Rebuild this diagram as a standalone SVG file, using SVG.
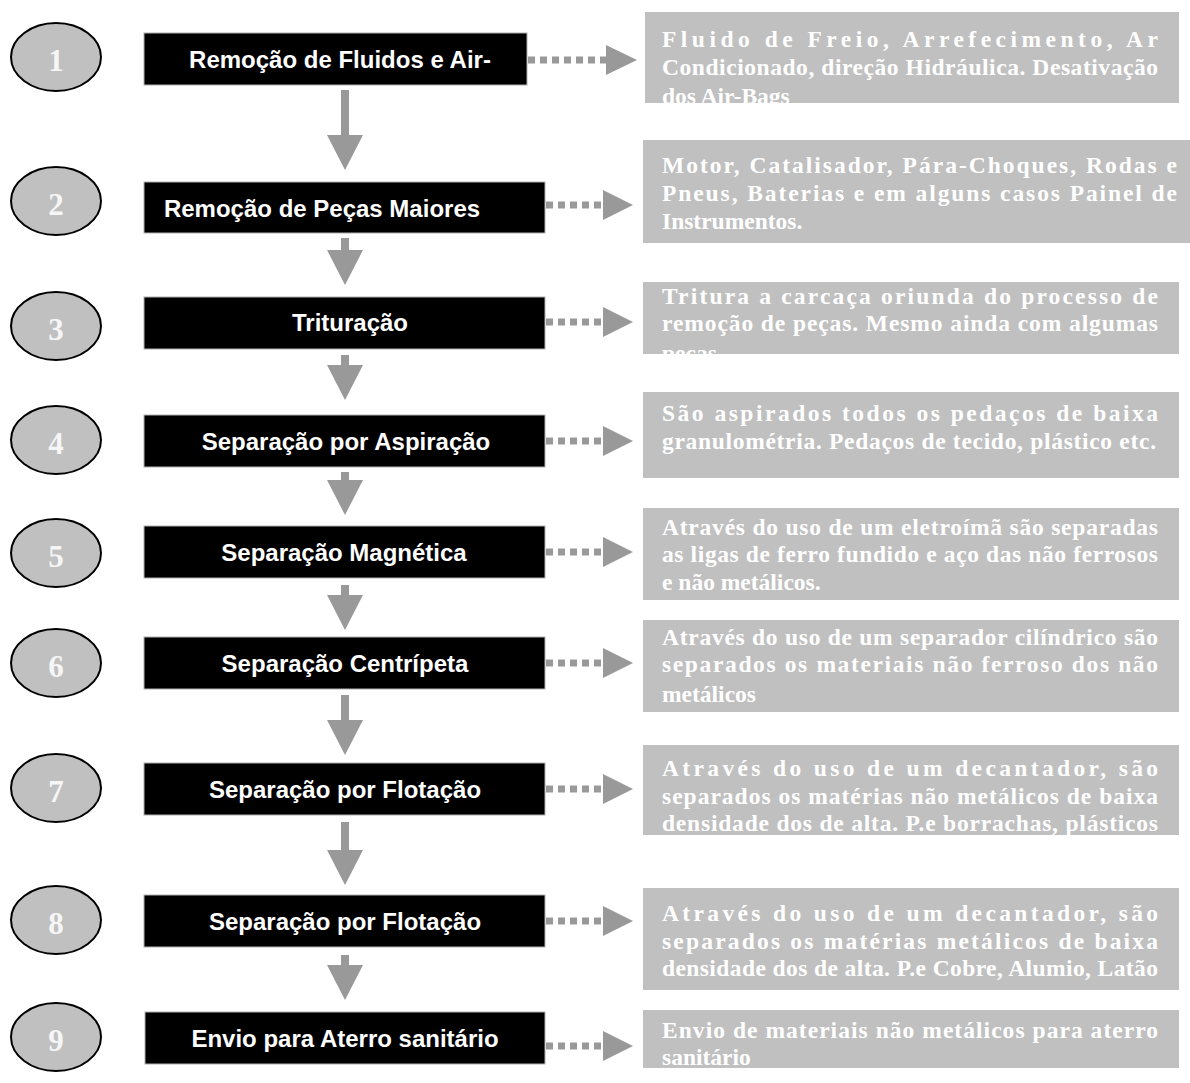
<svg xmlns="http://www.w3.org/2000/svg" width="1190" height="1083" viewBox="0 0 1190 1083">
  <style>
    .num { fill: #c0c0c0; stroke: #000; stroke-width: 2; }
    .numtxt { font-family: "Liberation Serif", "Times New Roman", serif; font-weight: bold; font-size: 31px; fill: #f6f6f6; text-anchor: middle; }
    .step { fill: #000; stroke: #b0b0b0; stroke-width: 1; }
    .steptxt { font-family: "Liberation Sans", Arial, sans-serif; font-weight: bold; font-size: 24px; fill: #fff; text-anchor: middle; }
    .note { fill: #c0c0c0; }
    .notetxt { font-family: "Liberation Serif", "Times New Roman", serif; font-weight: bold; font-size: 23.5px; fill: #fff; }
    .down { fill: #999; }
    .dots { stroke: #999; stroke-width: 7; stroke-dasharray: 7 5; fill: none; }
    .head { fill: #999; }
  </style>
  <defs>
    <clipPath id="c1"><rect x="645" y="12" width="534" height="91"/></clipPath>
    <clipPath id="c3"><rect x="643" y="282" width="536" height="72"/></clipPath>
    <clipPath id="c6"><rect x="643" y="620" width="536" height="92"/></clipPath>
  </defs>

  <rect width="1190" height="1083" fill="#fff"/>

  <!-- connectors: vertical flow arrows and dotted side arrows -->
  <g id="connectors">
    <polygon class="down" points="341,90 349,90 349,135 363,135 345,170 327,135 341,135"/>
    <polygon class="down" points="341,238 349,238 349,250 363,250 345,285 327,250 341,250"/>
    <polygon class="down" points="341,355 349,355 349,365 363,365 345,400 327,365 341,365"/>
    <polygon class="down" points="341,472 349,472 349,480 363,480 345,515 327,480 341,480"/>
    <polygon class="down" points="341,585 349,585 349,595 363,595 345,630 327,595 341,595"/>
    <polygon class="down" points="341,695 349,695 349,720 363,720 345,755 327,720 341,720"/>
    <polygon class="down" points="341,822 349,822 349,850 363,850 345,885 327,850 341,850"/>
    <polygon class="down" points="341,955 349,955 349,965 363,965 345,1000 327,965 341,965"/>

    <line class="dots" x1="528" y1="60" x2="606" y2="60"/>
    <polygon class="head" points="606,45 637,60 606,75"/>
    <line class="dots" x1="546" y1="205" x2="603" y2="205"/>
    <polygon class="head" points="603,190 633,205 603,220"/>
    <line class="dots" x1="546" y1="322" x2="603" y2="322"/>
    <polygon class="head" points="603,307 633,322 603,337"/>
    <line class="dots" x1="546" y1="441" x2="603" y2="441"/>
    <polygon class="head" points="603,426 633,441 603,456"/>
    <line class="dots" x1="546" y1="552" x2="603" y2="552"/>
    <polygon class="head" points="603,537 633,552 603,567"/>
    <line class="dots" x1="546" y1="663" x2="603" y2="663"/>
    <polygon class="head" points="603,648 633,663 603,678"/>
    <line class="dots" x1="546" y1="789" x2="603" y2="789"/>
    <polygon class="head" points="603,774 633,789 603,804"/>
    <line class="dots" x1="546" y1="921" x2="603" y2="921"/>
    <polygon class="head" points="603,906 633,921 603,936"/>
    <line class="dots" x1="546" y1="1046" x2="603" y2="1046"/>
    <polygon class="head" points="603,1031 633,1046 603,1061"/>
  </g>

  <!-- step 1 -->
  <g id="step1">
    <ellipse class="num" cx="56" cy="57" rx="45" ry="34"/>
    <text class="numtxt" x="56" y="71">1</text>
    <rect class="step" x="144" y="33" width="383" height="52"/>
    <text class="steptxt" x="340" y="68">Remoção de Fluidos e Air-</text>
  </g>
  <g id="note1" clip-path="url(#c1)">
    <rect class="note" x="645" y="12" width="534" height="91"/>
    <text class="notetxt" x="662" y="47" textLength="496" lengthAdjust="spacing">Fluido de Freio, Arrefecimento, Ar</text>
    <text class="notetxt" x="662" y="75" textLength="496" lengthAdjust="spacing">Condicionado, direção Hidráulica. Desativação</text>
    <text class="notetxt" x="662" y="104">dos Air-Bags</text>
  </g>

  <!-- step 2 -->
  <g id="step2">
    <ellipse class="num" cx="56" cy="201" rx="45" ry="34"/>
    <text class="numtxt" x="56" y="215">2</text>
    <rect class="step" x="144" y="182" width="401" height="51"/>
    <text class="steptxt" x="322" y="217">Remoção de Peças Maiores</text>
  </g>
  <g id="note2">
    <rect class="note" x="643" y="140" width="547" height="103"/>
    <text class="notetxt" x="662" y="173" textLength="515" lengthAdjust="spacing">Motor, Catalisador, Pára-Choques, Rodas e</text>
    <text class="notetxt" x="662" y="201" textLength="515" lengthAdjust="spacing">Pneus, Baterias e em alguns casos Painel de</text>
    <text class="notetxt" x="662" y="229">Instrumentos.</text>
  </g>

  <!-- step 3 -->
  <g id="step3">
    <ellipse class="num" cx="56" cy="326" rx="45" ry="34"/>
    <text class="numtxt" x="56" y="340">3</text>
    <rect class="step" x="144" y="297" width="401" height="52"/>
    <text class="steptxt" x="350" y="331">Trituração</text>
  </g>
  <g id="note3" clip-path="url(#c3)">
    <rect class="note" x="643" y="282" width="536" height="72"/>
    <text class="notetxt" x="662" y="304" textLength="496" lengthAdjust="spacing">Tritura a carcaça oriunda do processo de</text>
    <text class="notetxt" x="662" y="331" textLength="496" lengthAdjust="spacing">remoção de peças. Mesmo ainda com algumas</text>
    <text class="notetxt" x="662" y="361">peças</text>
  </g>

  <!-- step 4 -->
  <g id="step4">
    <ellipse class="num" cx="56" cy="440" rx="45" ry="34"/>
    <text class="numtxt" x="56" y="454">4</text>
    <rect class="step" x="144" y="415" width="401" height="52"/>
    <text class="steptxt" x="346" y="450">Separação por Aspiração</text>
  </g>
  <g id="note4">
    <rect class="note" x="643" y="392" width="536" height="86"/>
    <text class="notetxt" x="662" y="421" textLength="496" lengthAdjust="spacing">São aspirados todos os pedaços de baixa</text>
    <text class="notetxt" x="662" y="449" textLength="494" lengthAdjust="spacing">granulométria. Pedaços de tecido, plástico etc.</text>
  </g>

  <!-- step 5 -->
  <g id="step5">
    <ellipse class="num" cx="56" cy="553" rx="45" ry="34"/>
    <text class="numtxt" x="56" y="567">5</text>
    <rect class="step" x="144" y="526" width="401" height="52"/>
    <text class="steptxt" x="344" y="561">Separação Magnética</text>
  </g>
  <g id="note5">
    <rect class="note" x="643" y="508" width="536" height="92"/>
    <text class="notetxt" x="662" y="535" textLength="496" lengthAdjust="spacing">Através do uso de um eletroímã são separadas</text>
    <text class="notetxt" x="662" y="562" textLength="496" lengthAdjust="spacing">as ligas de ferro fundido e aço das não ferrosos</text>
    <text class="notetxt" x="662" y="590">e não metálicos.</text>
  </g>

  <!-- step 6 -->
  <g id="step6">
    <ellipse class="num" cx="56" cy="663" rx="45" ry="34"/>
    <text class="numtxt" x="56" y="677">6</text>
    <rect class="step" x="144" y="637" width="401" height="52"/>
    <text class="steptxt" x="345" y="672">Separação Centrípeta</text>
  </g>
  <g id="note6" clip-path="url(#c6)">
    <rect class="note" x="643" y="620" width="536" height="92"/>
    <text class="notetxt" x="662" y="645" textLength="496" lengthAdjust="spacing">Através do uso de um separador cilíndrico são</text>
    <text class="notetxt" x="662" y="672" textLength="496" lengthAdjust="spacing">separados os materiais não ferroso dos não</text>
    <text class="notetxt" x="662" y="702">metálicos</text>
  </g>

  <!-- step 7 -->
  <g id="step7">
    <ellipse class="num" cx="56" cy="788" rx="45" ry="34"/>
    <text class="numtxt" x="56" y="802">7</text>
    <rect class="step" x="144" y="763" width="401" height="52"/>
    <text class="steptxt" x="345" y="798">Separação por Flotação</text>
  </g>
  <g id="note7">
    <rect class="note" x="643" y="745" width="536" height="90"/>
    <text class="notetxt" x="662" y="776" textLength="496" lengthAdjust="spacing">Através do uso de um decantador, são</text>
    <text class="notetxt" x="662" y="804" textLength="496" lengthAdjust="spacing">separados os matérias não metálicos de baixa</text>
    <text class="notetxt" x="662" y="831" textLength="496" lengthAdjust="spacing">densidade dos de alta. P.e borrachas, plásticos</text>
  </g>

  <!-- step 8 -->
  <g id="step8">
    <ellipse class="num" cx="56" cy="920" rx="45" ry="34"/>
    <text class="numtxt" x="56" y="934">8</text>
    <rect class="step" x="144" y="895" width="401" height="52"/>
    <text class="steptxt" x="345" y="930">Separação por Flotação</text>
  </g>
  <g id="note8">
    <rect class="note" x="643" y="888" width="536" height="102"/>
    <text class="notetxt" x="662" y="921" textLength="496" lengthAdjust="spacing">Através do uso de um decantador, são</text>
    <text class="notetxt" x="662" y="949" textLength="496" lengthAdjust="spacing">separados os matérias metálicos de baixa</text>
    <text class="notetxt" x="662" y="976" textLength="496" lengthAdjust="spacing">densidade dos de alta. P.e Cobre, Alumio, Latão</text>
  </g>

  <!-- step 9 -->
  <g id="step9">
    <ellipse class="num" cx="56" cy="1037" rx="45" ry="34"/>
    <text class="numtxt" x="56" y="1051">9</text>
    <rect class="step" x="145" y="1012" width="400" height="52"/>
    <text class="steptxt" x="345" y="1047">Envio para Aterro sanitário</text>
  </g>
  <g id="note9">
    <rect class="note" x="643" y="1010" width="536" height="58"/>
    <text class="notetxt" x="662" y="1038" textLength="496" lengthAdjust="spacing">Envio de materiais não metálicos para aterro</text>
    <text class="notetxt" x="662" y="1065">sanitário</text>
  </g>
</svg>
